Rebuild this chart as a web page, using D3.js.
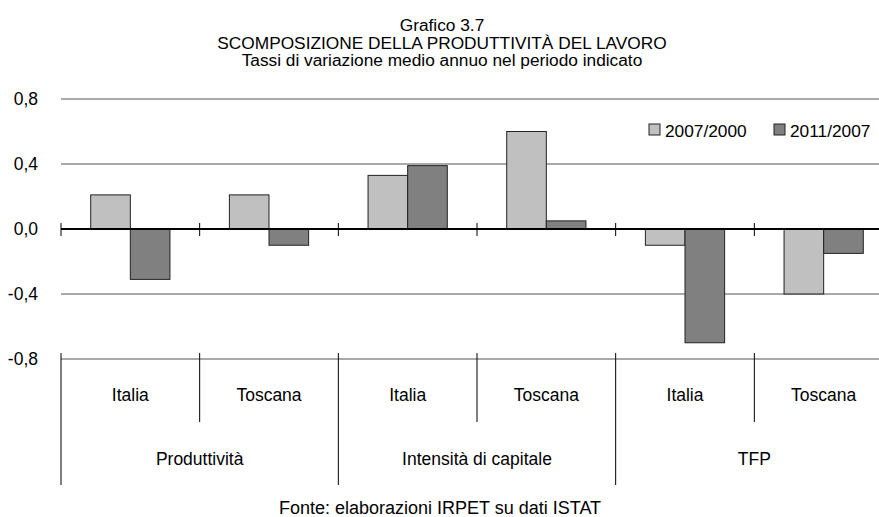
<!DOCTYPE html>
<html>
<head>
<meta charset="utf-8">
<script src="https://cdn.jsdelivr.net/npm/d3@7"></script>
<style>
  body { margin: 0; background: #fff; }
  text { font-family: "Liberation Sans", Arial, sans-serif; fill: #000; }
</style>
</head>
<body>
<div id="chart"></div>
<script>
// Data
const groups = ["Produttività", "Intensità di capitale", "TFP"];
const regions = ["Italia", "Toscana"];
const series = ["2007/2000", "2011/2007"];
const values2007_2000 = [0.21, 0.21, 0.33, 0.60, -0.10, -0.40];
const values2011_2007 = [-0.31, -0.10, 0.39, 0.05, -0.70, -0.15];
const yTicks = [-0.8, -0.4, 0.0, 0.4, 0.8];
const titleLines = ["Grafico 3.7", "SCOMPOSIZIONE DELLA PRODUTTIVITÀ DEL LAVORO", "Tassi di variazione medio annuo nel periodo indicato"];
const sourceNote = "Fonte: elaborazioni IRPET su dati ISTAT";

const colors = {"2007/2000": "#c0c0c0", "2011/2007": "#808080"};

// one row per bar cluster
const rows = [];
groups.forEach((g, gi) => regions.forEach((r, ri) => {
  const i = gi * regions.length + ri;
  rows.push({key: i, group: g, region: r, vals: [values2007_2000[i], values2011_2007[i]]});
}));

const W = 879, H = 517;
const plotLeft = 61, plotRight = 893, plotTop = 99, plotBottom = 359;

const svg = d3.select("#chart").append("svg")
    .attr("width", W)
    .attr("height", H);

// scales
const x0 = d3.scaleBand()
    .domain(rows.map(d => d.key))
    .range([plotLeft, plotRight])
    .padding(0);
const x1 = d3.scaleBand()
    .domain(series)
    .range([0, x0.bandwidth()])
    .paddingInner(0)
    .paddingOuter(0.75);
const y = d3.scaleLinear()
    .domain([-0.8, 0.8])
    .range([plotBottom, plotTop]);

const fmt = v => d3.format(".1f")(v).replace(".", ",").replace("−", "-");

// title
svg.append("g").selectAll("text")
  .data(titleLines)
  .enter().append("text")
    .attr("x", 442)
    .attr("y", (d, i) => 31 + i * 17.7)
    .attr("text-anchor", "middle")
    .style("font-size", "17.3px")
    .text(d => d);

// gridlines
svg.append("g").selectAll("line")
  .data(yTicks.filter(t => t !== 0))
  .enter().append("line")
    .attr("x1", plotLeft).attr("x2", W)
    .attr("y1", d => y(d)).attr("y2", d => y(d))
    .attr("stroke", "#8c8c8c")
    .attr("stroke-width", 1.5);

// y labels
svg.append("g").selectAll("text")
  .data(yTicks)
  .enter().append("text")
    .attr("x", 38)
    .attr("y", d => y(d))
    .attr("dy", "0.35em")
    .attr("text-anchor", "end")
    .style("font-size", "17.5px")
    .text(fmt);

// bars
const cluster = svg.append("g").selectAll("g")
  .data(rows)
  .enter().append("g")
    .attr("transform", d => `translate(${x0(d.key)},0)`);

cluster.selectAll("rect")
  .data(d => d.vals.map((v, i) => ({s: series[i], v: v})))
  .enter().append("rect")
    .attr("x", d => x1(d.s))
    .attr("y", d => y(Math.max(0, d.v)))
    .attr("width", x1.bandwidth())
    .attr("height", d => Math.abs(y(d.v) - y(0)))
    .attr("fill", d => colors[d.s])
    .attr("stroke", "#222")
    .attr("stroke-width", 1);

// zero line with ticks at cluster boundaries
const boundaries = rows.map(d => x0(d.key)).concat([plotRight]);
svg.append("line")
    .attr("x1", plotLeft).attr("x2", W)
    .attr("y1", y(0)).attr("y2", y(0))
    .attr("stroke", "#000")
    .attr("stroke-width", 2);
svg.append("g").selectAll("line")
  .data(boundaries)
  .enter().append("line")
    .attr("x1", d => d).attr("x2", d => d)
    .attr("y1", y(0) - 6).attr("y2", y(0) + 7)
    .attr("stroke", "#000")
    .attr("stroke-width", 1);

// category axis below the plot
svg.append("g").selectAll("line")
  .data(boundaries)
  .enter().append("line")
    .attr("x1", d => d).attr("x2", d => d)
    .attr("y1", 353)
    .attr("y2", (d, i) => i % regions.length === 0 ? 485 : 422)
    .attr("stroke", "#000")
    .attr("stroke-width", 1);

svg.append("g").selectAll("text")
  .data(rows)
  .enter().append("text")
    .attr("x", d => x0(d.key) + x0.bandwidth() / 2)
    .attr("y", 401)
    .attr("text-anchor", "middle")
    .style("font-size", "17.5px")
    .text(d => d.region);

svg.append("g").selectAll("text")
  .data(groups)
  .enter().append("text")
    .attr("x", (d, i) => x0(i * regions.length) + x0.bandwidth() * regions.length / 2)
    .attr("y", 465)
    .attr("text-anchor", "middle")
    .style("font-size", "17.5px")
    .text(d => d);

// legend
const legendX = [649, 774];
const legend = svg.append("g").selectAll("g")
  .data(series)
  .enter().append("g")
    .attr("transform", (d, i) => `translate(${legendX[i]},124)`);
legend.append("rect")
    .attr("width", 11).attr("height", 11)
    .attr("fill", d => colors[d])
    .attr("stroke", "#222");
legend.append("text")
    .attr("x", 16)
    .attr("y", 12.7)
    .style("font-size", "17.3px")
    .text(d => d);

// source
svg.append("text")
    .attr("x", 440)
    .attr("y", 514)
    .attr("text-anchor", "middle")
    .style("font-size", "18px")
    .text(sourceNote);
</script>
</body>
</html>
